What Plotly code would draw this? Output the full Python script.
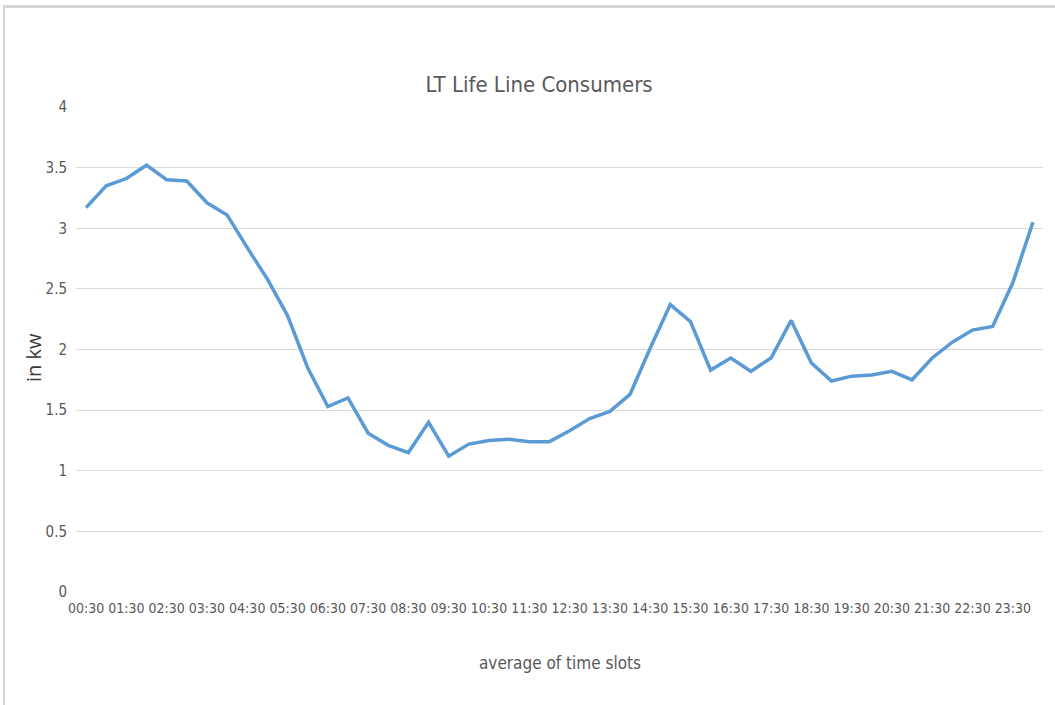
import plotly.graph_objects as go

# Half-hour time slots, 00:30 through 24:00
time_slots = [f"{(m // 60):02d}:{(m % 60):02d}" for m in range(30, 24 * 60 + 1, 30)]

# Average load per slot (kW)
load_kw = [3.17, 3.35, 3.41, 3.52, 3.40, 3.39, 3.21, 3.11, 2.84, 2.58,
           2.28, 1.85, 1.53, 1.60, 1.31, 1.21, 1.15, 1.40, 1.12, 1.22,
           1.25, 1.26, 1.24, 1.24, 1.33, 1.43, 1.49, 1.63, 2.01, 2.37,
           2.23, 1.83, 1.93, 1.82, 1.93, 2.24, 1.89, 1.74, 1.78, 1.79,
           1.82, 1.75, 1.93, 2.06, 2.16, 2.19, 2.55, 3.05]

# Every other slot is labelled on the axis
tick_labels = time_slots[::2]
y_ticks = [0, 0.5, 1, 1.5, 2, 2.5, 3, 3.5, 4]

NARROW = "Liberation Sans Narrow, DejaVu Sans Condensed, Open Sans, sans-serif"
GREY_TEXT = "#595959"
GRID = "#D9D9D9"

fig = go.Figure()
fig.add_trace(go.Scatter(
    x=time_slots,
    y=load_kw,
    mode="lines",
    line=dict(color="#5B9BD5", width=3.5),
    showlegend=False,
))

fig.update_layout(
    width=1055,
    height=705,
    margin=dict(l=76, r=12, t=107, b=113),
    paper_bgcolor="white",
    plot_bgcolor="white",
    title=dict(
        text="LT Life Line Consumers",
        x=0.511, xanchor="center",
        y=1 - 84 / 705, yanchor="middle",
        font=dict(family=NARROW, size=22, color=GREY_TEXT),
    ),
    xaxis=dict(
        type="category",
        categoryorder="array",
        categoryarray=time_slots,
        range=[-0.5, len(time_slots) - 0.5],
        tickmode="array",
        tickvals=tick_labels,
        ticktext=tick_labels,
        tickangle=0,
        showgrid=False,
        zeroline=False,
        showline=False,
        ticks="",
        ticklabelstandoff=6,
        tickfont=dict(family=NARROW, size=14, color=GREY_TEXT),
    ),
    yaxis=dict(
        range=[0, 4],
        tickmode="array",
        tickvals=y_ticks,
        ticktext=[f"{v:g}" for v in y_ticks],
        showgrid=True,
        gridcolor=GRID,
        gridwidth=1,
        zeroline=False,
        showline=False,
        ticks="",
        ticklabelstandoff=8,
        tickfont=dict(family=NARROW, size=15, color=GREY_TEXT),
    ),
    annotations=[
        dict(
            text="average of time slots",
            xref="paper", yref="paper",
            x=(560 - 76) / 967, y=(592 - 663) / 485,
            xanchor="center", yanchor="middle",
            showarrow=False,
            font=dict(family=NARROW, size=17, color=GREY_TEXT),
        ),
        dict(
            text="in kw",
            xref="paper", yref="paper",
            x=(33 - 76) / 967, y=(592 - 358) / 485,
            xanchor="center", yanchor="middle",
            textangle=-90,
            showarrow=False,
            font=dict(family="Open Sans, sans-serif", size=20, color="#3A3A3A"),
        ),
    ],
    shapes=[
        # light frame along the top and left edges
        dict(type="line", xref="paper", yref="paper",
             x0=(4 - 76) / 967, x1=(1055 - 76) / 967,
             y0=(592 - 6.5) / 485, y1=(592 - 6.5) / 485,
             line=dict(color="#D6D6D6", width=3)),
        dict(type="line", xref="paper", yref="paper",
             x0=(4 - 76) / 967, x1=(4 - 76) / 967,
             y0=(592 - 5) / 485, y1=(592 - 705) / 485,
             line=dict(color="#D6D6D6", width=2)),
    ],
)

fig.write_html("out.html")
